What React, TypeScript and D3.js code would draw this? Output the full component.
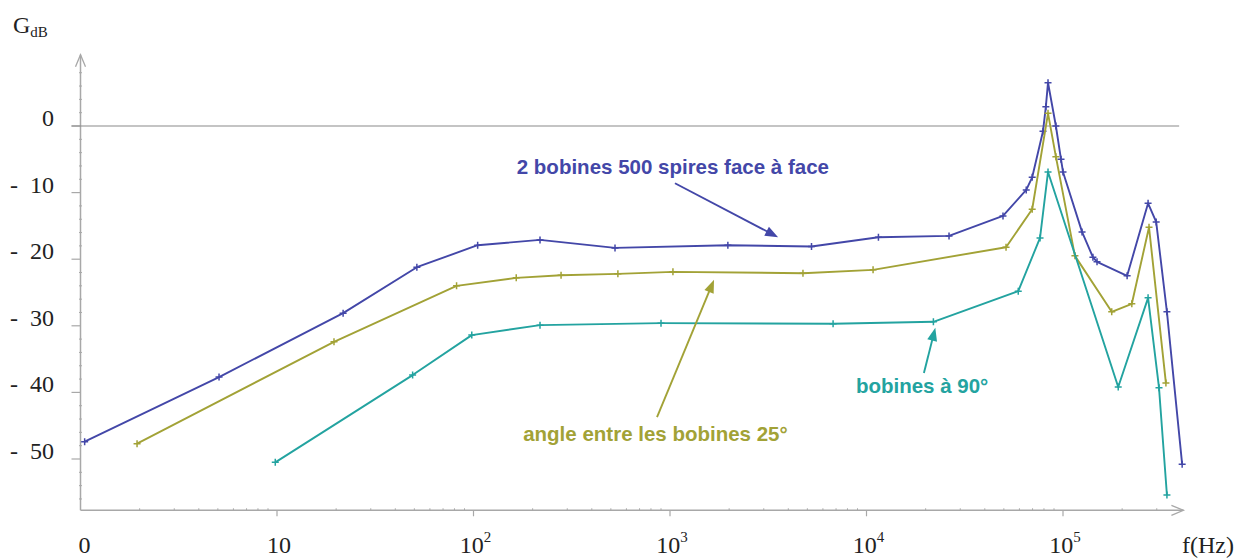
import * as d3 from "d3";

// frequencies (Hz) and gains (dB)
const faceFreq = [1.05, 5.07, 21.7, 51.5, 105, 218, 525, 1970, 5250, 11500, 26300, 49500, 65000, 69700, 79100, 81800, 83900, 92000, 97700, 100000, 125000, 142000, 149000, 212000, 271000, 298000, 338000, 404000];
const faceGain = [-47.4, -37.7, -28.1, -21.2, -17.9, -17.1, -18.3, -17.9, -18.1, -16.7, -16.5, -13.5, -9.6, -7.7, -0.8, 2.9, 6.5, 0, -5.0, -6.9, -15.9, -19.7, -20.4, -22.5, -11.6, -14.4, -27.9, -50.8];

const angleFreq = [1.94, 19.5, 82, 165, 279, 543, 1035, 4750, 10800, 51300, 69700, 83900, 92000, 115000, 177000, 224000, 274000, 334000];
const angleGain = [-47.7, -32.4, -24.0, -22.8, -22.4, -22.2, -21.9, -22.1, -21.6, -18.2, -12.5, 1.9, -4.6, -19.5, -27.9, -26.7, -15.2, -38.6];

const ortoFreq = [9.8, 49, 98, 218, 900, 6760, 21900, 59200, 76400, 83900, 191000, 271000, 308000, 338000];
const ortoGain = [-50.5, -37.4, -31.4, -29.9, -29.6, -29.7, -29.4, -24.8, -16.8, -6.9, -39.2, -25.8, -39.3, -55.4];

const yTicks = [0, -10, -20, -30, -40, -50];
const yTickLabels = ["0", "-\u200210", "-\u200220", "-\u200230", "-\u200240", "-\u200250"];
const xDecades = [1, 10, 100, 1000, 10000, 100000];
const xExponents = ["", "", "2", "3", "4", "5"];
const xBaseLabels = ["0", "10", "10", "10", "10", "10"];

const BLUE = "#4347a8";
const OLIVE = "#a2a236";
const TEAL = "#23a3a0";

const series = [
  { name: "face", freq: faceFreq, gain: faceGain, color: BLUE },
  { name: "angle", freq: angleFreq, gain: angleGain, color: OLIVE },
  { name: "orto", freq: ortoFreq, gain: ortoGain, color: TEAL },
];

// annotations: text anchor and arrow, in data units
const notes = [
  { text: "2 bobines 500 spires face à face", color: BLUE, tf: 166, tg: -7.2, from: [1060, -8.6], to: [3550, -16.7] },
  { text: "angle entre les bobines 25°", color: OLIVE, tf: 179, tg: -47.3, from: [859, -43.7], to: [1675, -23.1] },
  { text: "bobines à 90°", color: TEAL, tf: 8830, tg: -40.1, from: [19600, -37.1], to: [22400, -30.3] },
];

const W = 1253;
const H = 560;

export default function App() {
  const x = d3.scaleLog().domain([1, 1e5]).range([80.5, 1063]);
  const y = d3.scaleLinear().domain([0, -50]).range([126, 459]);

  const x0 = x(1);
  const xEnd = x(4.1e5);
  const yTop = y(10.7);
  const yBot = y(-57.7);

  const line = d3.line<[number, number]>().x(d => x(d[0])).y(d => y(d[1]));

  // log minor ticks
  const minor: number[] = [];
  xDecades.forEach(dec => {
    for (let k = 2; k <= 9; k++) {
      const v = dec * k;
      if (x(v) < xEnd - 4) minor.push(v);
    }
  });
  const yMinor = d3.range(10, -58, -2).filter(v => v % 10 !== 0);

  const axisColor = "#a8a8a8";
  const serif = "'Liberation Serif', 'Times New Roman', serif";
  const sans = "'Liberation Sans', Arial, sans-serif";

  const arrowHead = (x1: number, y1: number, x2: number, y2: number, color: string) => {
    const a = Math.atan2(y2 - y1, x2 - x1);
    const len = 13, half = 5;
    const bx = x2 - len * Math.cos(a), by = y2 - len * Math.sin(a);
    const p1 = [bx + half * Math.sin(a), by - half * Math.cos(a)];
    const p2 = [bx - half * Math.sin(a), by + half * Math.cos(a)];
    return <polygon points={`${x2},${y2} ${p1[0]},${p1[1]} ${p2[0]},${p2[1]}`} fill={color} />;
  };

  return (
    <svg width={W} height={H} style={{ position: "absolute", left: 0, top: 0, background: "#fff" }}>
      {/* y axis */}
      <line x1={x0} x2={x0} y1={yBot} y2={yTop} stroke={axisColor} strokeWidth={1.5} />
      <polyline points={`${x0 - 5},${yTop + 12} ${x0},${yTop} ${x0 + 5},${yTop + 12}`} fill="none" stroke={axisColor} strokeWidth={1.3} />
      {yMinor.map(v => (
        <line key={v} x1={x0 - 1.5} x2={x0 + 1.5} y1={y(v)} y2={y(v)} stroke={axisColor} strokeWidth={1} />
      ))}
      {yTicks.map((v, i) => (
        <g key={v}>
          <line x1={x0 - 9} x2={x0} y1={y(v)} y2={y(v)} stroke={axisColor} strokeWidth={1.2} />
          <text x={54} y={y(v)} textAnchor="end" fontFamily={serif} fontSize={24} fill="#222">{yTickLabels[i]}</text>
        </g>
      ))}
      {/* zero line */}
      <line x1={x0 - 9} x2={x(3.9e5)} y1={y(0)} y2={y(0)} stroke="#8a8a8a" strokeWidth={1.2} />

      {/* x axis */}
      <line x1={x0} x2={xEnd} y1={yBot} y2={yBot} stroke={axisColor} strokeWidth={1.5} />
      <polyline points={`${xEnd - 12},${yBot - 5} ${xEnd},${yBot} ${xEnd - 12},${yBot + 5}`} fill="none" stroke={axisColor} strokeWidth={1.3} />
      {minor.map(v => (
        <line key={v} x1={x(v)} x2={x(v)} y1={yBot - 2} y2={yBot} stroke={axisColor} strokeWidth={1} />
      ))}
      {xDecades.map((v, i) => (
        <g key={v}>
          {i > 0 && <line x1={x(v)} x2={x(v)} y1={yBot} y2={yBot + 6} stroke={axisColor} strokeWidth={1.2} />}
          <text x={x(v) + (i === 0 ? 4 : 2)} y={553} textAnchor="middle" fontFamily={serif} fontSize={24} fill="#222">
            {xBaseLabels[i]}
            {xExponents[i] && <tspan fontSize={15} dy={-11}>{xExponents[i]}</tspan>}
          </text>
        </g>
      ))}
      <text x={1182} y={553} fontFamily={serif} fontSize={24} fill="#222">f(Hz)</text>
      <text x={13} y={33} fontFamily={serif} fontSize={24} fill="#222">
        G<tspan fontSize={15} dy={4}>dB</tspan>
      </text>

      {/* curves */}
      {series.map(s => {
        const pts = s.freq.map((f, i) => [f, s.gain[i]] as [number, number]);
        return (
          <g key={s.name}>
            <path d={line(pts) || ""} fill="none" stroke={s.color} strokeWidth={1.9} strokeLinejoin="round" />
            {pts.map((p, i) => (
              <path key={i} d={`M${x(p[0]) - 3.5},${y(p[1])}h7M${x(p[0])},${y(p[1]) - 3.5}v7`} stroke={s.color} strokeWidth={1.5} />
            ))}
          </g>
        );
      })}

      {/* annotations */}
      {notes.map(n => {
        const x1 = x(n.from[0]), y1 = y(n.from[1]), x2 = x(n.to[0]), y2 = y(n.to[1]);
        const a = Math.atan2(y2 - y1, x2 - x1);
        return (
          <g key={n.text}>
            <line x1={x1} y1={y1} x2={x2 - 8 * Math.cos(a)} y2={y2 - 8 * Math.sin(a)} stroke={n.color} strokeWidth={1.9} />
            {arrowHead(x1, y1, x2, y2, n.color)}
            <text x={x(n.tf)} y={y(n.tg)} fontFamily={sans} fontWeight="bold" fontSize={20.5} fill={n.color}>{n.text}</text>
          </g>
        );
      })}
    </svg>
  );
}
